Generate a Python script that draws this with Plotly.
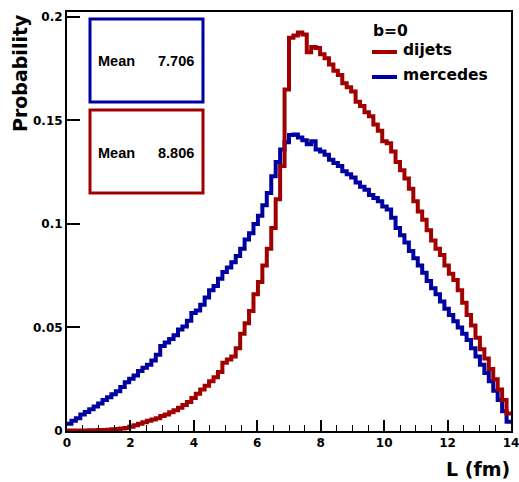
import numpy as np
import plotly.graph_objects as go

# ---- data ----
bin_lo, bin_hi, n_bins = 0.0, 14.0, 100

mercedes = [0.0035, 0.0050, 0.0062, 0.0080, 0.0092, 0.0105, 0.0118, 0.0133, 0.0150, 0.0163,
            0.0178, 0.0192, 0.0212, 0.0236, 0.0252, 0.0268, 0.0290, 0.0305, 0.0320, 0.0340,
            0.0368, 0.0410, 0.0428, 0.0445, 0.0462, 0.0490, 0.0505, 0.0532, 0.0570, 0.0582,
            0.0610, 0.0645, 0.0680, 0.0700, 0.0735, 0.0768, 0.0790, 0.0815, 0.0845, 0.0880,
            0.0925, 0.0955, 0.1000, 0.1040, 0.1090, 0.1150, 0.1230, 0.1300, 0.1360, 0.1395,
            0.1430, 0.1432, 0.1418, 0.1405, 0.1385, 0.1400, 0.1360, 0.1350, 0.1335, 0.1310,
            0.1295, 0.1280, 0.1255, 0.1240, 0.1225, 0.1200, 0.1180, 0.1165, 0.1140, 0.1125,
            0.1110, 0.1085, 0.1070, 0.1030, 0.0980, 0.0945, 0.0910, 0.0870, 0.0835, 0.0800,
            0.0765, 0.0725, 0.0690, 0.0660, 0.0625, 0.0590, 0.0560, 0.0530, 0.0500, 0.0470,
            0.0440, 0.0400, 0.0360, 0.0320, 0.0280, 0.0240, 0.0195, 0.0150, 0.0095, 0.0045]

dijets = [0.0002, 0.0002, 0.0003, 0.0003, 0.0003, 0.0004, 0.0004, 0.0005, 0.0005, 0.0006,
          0.0008, 0.0010, 0.0012, 0.0014, 0.0020, 0.0028, 0.0035, 0.0042, 0.0050, 0.0055,
          0.0062, 0.0072, 0.0080, 0.0090, 0.0100, 0.0112, 0.0125, 0.0140, 0.0160, 0.0180,
          0.0200, 0.0218, 0.0240, 0.0260, 0.0285, 0.0330, 0.0345, 0.0360, 0.0400, 0.0470,
          0.0520, 0.0580, 0.0660, 0.0720, 0.0800, 0.0880, 0.0980, 0.1120, 0.1280, 0.1650,
          0.1900, 0.1910, 0.1925, 0.1915, 0.1830, 0.1855, 0.1850, 0.1820, 0.1800, 0.1770,
          0.1740, 0.1720, 0.1680, 0.1660, 0.1640, 0.1590, 0.1570, 0.1540, 0.1520, 0.1480,
          0.1450, 0.1400, 0.1390, 0.1350, 0.1300, 0.1260, 0.1220, 0.1170, 0.1110, 0.1060,
          0.1020, 0.0970, 0.0920, 0.0880, 0.0850, 0.0800, 0.0760, 0.0730, 0.0680, 0.0620,
          0.0560, 0.0510, 0.0450, 0.0395, 0.0350, 0.0300, 0.0250, 0.0200, 0.0150, 0.0085]

series_names = ["dijets", "mercedes"]
mean_texts = ["7.706", "8.806"]     # mercedes, dijets
legend_title = "b=0"
x_ticks = [0, 2, 4, 6, 8, 10, 12, 14]
y_ticks = [0, 0.05, 0.1, 0.15, 0.2]
y_tick_labels = ["0", "0.05", "0.1", "0.15", "0.2"]

RED = "#a00000"
BLUE = "#0000a0"

edges = np.linspace(bin_lo, bin_hi, n_bins + 1)

W, H = 519, 482
ML, MR, MT, MB = 67, 8, 12, 51
PW, PH = W - ML - MR, H - MT - MB


def px(xp):
    return (xp - ML) / PW


def py(yp):
    return (H - MB - yp) / PH


fig = go.Figure()
for name, vals, col in [("mercedes", mercedes, BLUE), ("dijets", dijets, RED)]:
    fig.add_trace(go.Scatter(
        x=edges, y=list(vals) + [vals[-1]], mode="lines", name=name,
        line=dict(color=col, width=4, shape="hv"), showlegend=False,
        hoverinfo="skip"))

tickfont = dict(family="DejaVu Sans", size=12, color="black", weight="bold")
fig.update_xaxes(range=[0, 14], tickvals=x_ticks, ticks="inside", ticklen=11,
                 tickwidth=1.5, tickcolor="black", showline=True, linewidth=2,
                 linecolor="black", mirror=True, showgrid=False, zeroline=False,
                 tickfont=tickfont, automargin=False, ticklabeloverflow="allow",
                 minor=dict(ticks="inside", ticklen=6, dtick=0.5, tick0=0,
                            tickcolor="black", tickwidth=1.2, showgrid=False))
fig.update_yaxes(range=[0, 0.2024], tickvals=y_ticks, ticktext=y_tick_labels,
                 ticks="inside", ticklen=13, tickwidth=1.5, tickcolor="black",
                 showline=True, linewidth=2, linecolor="black", mirror=True,
                 showgrid=False, zeroline=False, tickfont=tickfont, automargin=False,
                 ticklabeloverflow="allow")

ann = []
titlefont = dict(family="DejaVu Sans", size=19, color="black", weight="bold")
ann.append(dict(text="Probability", textangle=-90, xref="paper", yref="paper",
                x=px(20), y=py(12), xanchor="center", yanchor="top",
                showarrow=False, font=titlefont))
ann.append(dict(text="L (fm)", xref="paper", yref="paper", x=px(512), y=py(469),
                xanchor="right", yanchor="middle", showarrow=False, font=titlefont))

legfont = dict(family="DejaVu Sans", size=15.5, color="black", weight="bold")
ann.append(dict(text=legend_title, xref="paper", yref="paper", x=px(371), y=py(31),
                xanchor="left", yanchor="middle", showarrow=False, font=legfont))
shapes = []
for name, col, yy in [(series_names[0], RED, 52), (series_names[1], BLUE, 77)]:
    ann.append(dict(text=name, xref="paper", yref="paper", x=px(401), y=py(yy - 2),
                    xanchor="left", yanchor="middle", showarrow=False, font=legfont))
    shapes.append(dict(type="line", xref="paper", yref="paper", x0=px(372), x1=px(397),
                       y0=py(yy), y1=py(yy), line=dict(color=col, width=4)))

meanfont = dict(family="Liberation Sans", size=14.5, color="black", weight="bold")
for mtxt, col, top, bot in [(mean_texts[0], BLUE, 19, 102), (mean_texts[1], RED, 110, 193)]:
    shapes.append(dict(type="rect", xref="paper", yref="paper", x0=px(90), x1=px(203),
                       y0=py(bot), y1=py(top), line=dict(color=col, width=3),
                       fillcolor="white", layer="above"))
    yc = (top + bot) / 2 + 1
    ann.append(dict(text="Mean", xref="paper", yref="paper", x=px(96), y=py(yc),
                    xanchor="left", yanchor="middle", showarrow=False, font=meanfont))
    ann.append(dict(text=mtxt, xref="paper", yref="paper", x=px(196), y=py(yc),
                    xanchor="right", yanchor="middle", showarrow=False, font=meanfont))

fig.update_layout(width=W, height=H, margin=dict(l=ML, r=MR, t=MT, b=MB),
                  plot_bgcolor="white", paper_bgcolor="white",
                  annotations=ann, shapes=shapes)
fig.write_html("out.html", config={"displayModeBar": False},
               post_script="document.body.style.margin='0px';document.body.style.padding='0px';")
